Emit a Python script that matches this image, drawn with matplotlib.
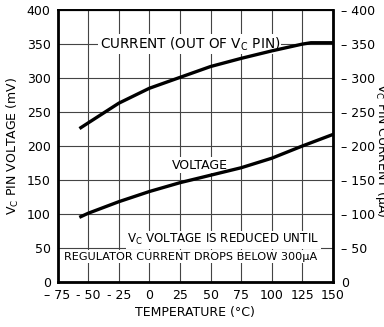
import matplotlib.pyplot as plt

# readings from the curves
temp_v = [-56, -50, -25, 0, 25, 50, 75, 100, 125, 150]
voltage = [96, 101, 118, 133, 146, 157, 168, 182, 200, 217]

temp_i = [-56, -50, -25, 0, 25, 50, 75, 100, 125, 132, 150]
current = [227, 234, 263, 285, 301, 317, 329, 340, 350, 352, 352]

x_ticks = [-75, -50, -25, 0, 25, 50, 75, 100, 125, 150]
x_labels = ['\u2013 75', '- 50', '- 25', '0', '25', '50', '75', '100', '125', '150']
y_ticks = [0, 50, 100, 150, 200, 250, 300, 350, 400]

plt.rcParams['font.family'] = ['Liberation Sans Narrow', 'DejaVu Sans']

fig = plt.figure(figsize=(3.84, 3.27), dpi=100)
ax = fig.add_axes([0.150, 0.138, 0.717, 0.831])

ax.plot(temp_i, current, color='black', lw=2.4, zorder=3)
ax.plot(temp_v, voltage, color='black', lw=2.4, zorder=3)

ax.set_xlim(-75, 150)
ax.set_ylim(0, 400)
ax.set_xticks(x_ticks)
ax.set_xticklabels(x_labels)
ax.set_yticks(y_ticks)
ax.tick_params(length=0, labelsize=9, pad=5)
ax.grid(True, color='#444444', lw=0.8)

for s in ax.spines.values():
    s.set_linewidth(1.4)
for s in ['left', 'bottom', 'right']:
    ax.spines[s].set_linewidth(2)

ax2 = ax.twinx()
ax2.set_ylim(0, 400)
ax2.set_yticks(y_ticks)
ax2.set_yticklabels(['0'] + ['\u2013 %d' % v for v in y_ticks[1:]])
ax2.tick_params(length=0, labelsize=9, pad=6)

box = dict(facecolor='white', edgecolor='none', pad=1)
ax.text(33, 350, 'CURRENT (OUT OF V$_\\mathregular{C}$ PIN)', fontsize=9.8,
        ha='center', va='center', bbox=box, zorder=2)
ax.text(41, 172, 'VOLTAGE', fontsize=9, ha='center', va='center',
        bbox=box, zorder=2)
ax.text(139, 62, 'V$_\\mathregular{C}$ VOLTAGE IS REDUCED UNTIL', fontsize=8.6,
        ha='right', va='center', bbox=box, zorder=2)
ax.text(137, 37, 'REGULATOR CURRENT DROPS BELOW 300\u03bcA', fontsize=8.1,
        ha='right', va='center', bbox=box, zorder=2)

ax.set_xlabel('TEMPERATURE (\u00b0C)', fontsize=9, labelpad=3)
ax.set_ylabel('V$_\\mathregular{C}$ PIN VOLTAGE (mV)', fontsize=9, labelpad=4)
# right axis title sits at the very edge, partly cut off as in the original
fig.text(0.993, 0.54, 'V$_\\mathregular{C}$ PIN CURRENT (\u03bcA)', fontsize=9,
         rotation=-90, ha='center', va='center')

fig.savefig('out.png', dpi=100)
